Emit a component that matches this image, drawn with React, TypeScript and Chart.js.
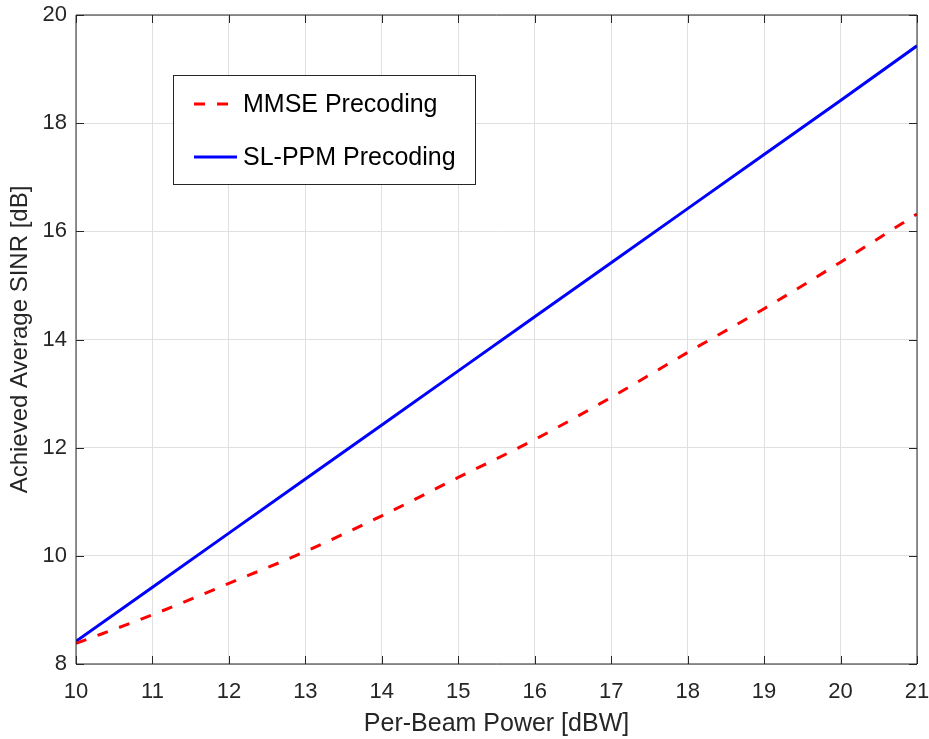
import React, { useEffect, useRef } from "react";
import { Chart, registerables } from "chart.js";

Chart.register(...registerables);

const powerDBW = [10, 11, 12, 13, 14, 15, 16, 17, 18, 19, 20, 21];
const mmseSINR = [8.38, 8.91, 9.49, 10.08, 10.74, 11.45, 12.15, 12.93, 13.76, 14.57, 15.43, 16.32];
const slppmSINR = [8.42, 9.42, 10.42, 11.42, 12.42, 13.42, 14.42, 15.42, 16.42, 17.42, 18.42, 19.43];
const seriesLabels = ["MMSE Precoding", "SL-PPM Precoding"];
const xTitle = "Per-Beam Power [dBW]";
const yTitle = "Achieved Average SINR [dB]";

const FONT = "'Liberation Sans', Arial, Helvetica, sans-serif";
const AXIS_COLOR = "#262626";
const GRID_COLOR = "#e0e0e0";

const boxPlugin = {
  id: "matlabBox",
  afterDatasetsDraw(chart: any) {
    const { ctx, chartArea } = chart;
    const { left, right, top, bottom } = chartArea;
    const xs = chart.scales.x;
    const ys = chart.scales.y;
    ctx.save();
    ctx.strokeStyle = AXIS_COLOR;
    ctx.lineWidth = 1;
    ctx.beginPath();
    ctx.rect(left, top, right - left, bottom - top);
    ctx.stroke();
    const tl = 8;
    ctx.beginPath();
    xs.ticks.forEach((t: any) => {
      const px = Math.round(xs.getPixelForValue(t.value)) + 0.5;
      ctx.moveTo(px, bottom);
      ctx.lineTo(px, bottom - tl);
      ctx.moveTo(px, top);
      ctx.lineTo(px, top + tl);
    });
    ys.ticks.forEach((t: any) => {
      const py = Math.round(ys.getPixelForValue(t.value)) + 0.5;
      ctx.moveTo(left, py);
      ctx.lineTo(left + tl, py);
      ctx.moveTo(right, py);
      ctx.lineTo(right - tl, py);
    });
    ctx.stroke();

    // legend
    const bx = left + 97;
    const by = top + 60;
    const bw = 302;
    const bh = 109;
    ctx.fillStyle = "#ffffff";
    ctx.fillRect(bx, by, bw, bh);
    ctx.strokeStyle = AXIS_COLOR;
    ctx.lineWidth = 1;
    ctx.strokeRect(bx + 0.5, by + 0.5, bw, bh);
    const rows = [by + 29, by + 82];
    chart.data.datasets.forEach((ds: any, i: number) => {
      const y = rows[i];
      ctx.save();
      ctx.strokeStyle = ds.borderColor;
      ctx.lineWidth = ds.borderWidth;
      ctx.setLineDash(ds.borderDash || []);
      ctx.lineCap = "butt";
      ctx.beginPath();
      ctx.moveTo(bx + 21, y);
      ctx.lineTo(bx + 64, y);
      ctx.stroke();
      ctx.restore();
      ctx.fillStyle = "#000000";
      ctx.font = `25px ${FONT}`;
      ctx.textBaseline = "middle";
      ctx.textAlign = "left";
      ctx.fillText(ds.label, bx + 70, y + 1);
    });
    ctx.restore();
  },
};

export default function App() {
  const canvasRef = useRef<HTMLCanvasElement | null>(null);

  useEffect(() => {
    document.body.style.margin = "0";
    const canvas = canvasRef.current;
    if (!canvas) return;
    const chart = new Chart(canvas, {
      type: "line",
      data: {
        datasets: [
          {
            label: seriesLabels[0],
            data: powerDBW.map((x, i) => ({ x, y: mmseSINR[i] })),
            borderColor: "#ff0000",
            backgroundColor: "#ff0000",
            borderWidth: 3,
            borderDash: [11, 12],
            pointRadius: 0,
            cubicInterpolationMode: "monotone",
            fill: false,
          },
          {
            label: seriesLabels[1],
            data: powerDBW.map((x, i) => ({ x, y: slppmSINR[i] })),
            borderColor: "#0000ff",
            backgroundColor: "#0000ff",
            borderWidth: 3,
            pointRadius: 0,
            fill: false,
          },
        ],
      },
      options: {
        responsive: false,
        animation: false,
        devicePixelRatio: 1,
        layout: { padding: { top: 15, right: 12, left: 0, bottom: 0 } },
        plugins: {
          legend: { display: false },
          tooltip: { enabled: false },
        },
        scales: {
          x: {
            type: "linear",
            min: 10,
            max: 21,
            afterFit: (s: any) => {
              s.height = 75;
              s.paddingLeft = 0;
              s.paddingRight = 0;
            },
            ticks: {
              stepSize: 1,
              color: AXIS_COLOR,
              font: { family: FONT, size: 22 },
              padding: 15,
              maxRotation: 0,
            },
            grid: { color: GRID_COLOR, drawTicks: false },
            border: { display: false },
            title: {
              display: true,
              text: xTitle,
              color: AXIS_COLOR,
              font: { family: FONT, size: 25 },
              padding: { top: 0, bottom: 0 },
            },
          },
          y: {
            type: "linear",
            min: 8,
            max: 20,
            afterFit: (s: any) => {
              s.width = 76;
              s.paddingTop = 0;
              s.paddingBottom = 0;
            },
            ticks: {
              stepSize: 2,
              color: AXIS_COLOR,
              font: { family: FONT, size: 22 },
              padding: 9,
            },
            grid: { color: GRID_COLOR, drawTicks: false },
            border: { display: false },
            title: {
              display: true,
              text: yTitle,
              color: AXIS_COLOR,
              font: { family: FONT, size: 24 },
              padding: { top: 6, bottom: 0 },
            },
          },
        },
      },
      plugins: [boxPlugin],
    } as any);
    return () => chart.destroy();
  }, []);

  return (
    <div style={{ width: 929, height: 739 }}>
      <canvas ref={canvasRef} width={929} height={739} style={{ display: "block" }} />
    </div>
  );
}
